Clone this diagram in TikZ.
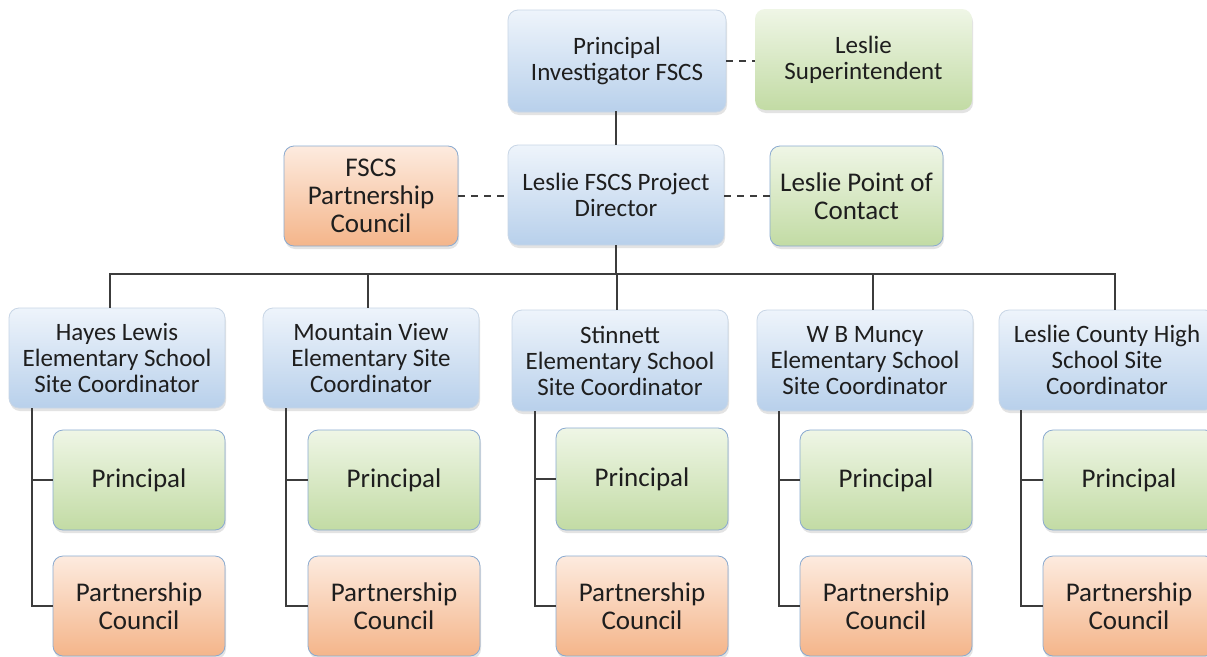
\documentclass[tikz,border=0pt]{standalone}
\usepackage{fontspec}
\setmainfont{Carlito}
\usetikzlibrary{shadows}

\definecolor{bTop}{HTML}{EEF4FB}
\definecolor{bBot}{HTML}{B8D0EB}
\definecolor{bLine}{HTML}{C8D6E6}
\definecolor{gTop}{HTML}{EFF6E6}
\definecolor{gBot}{HTML}{C2DBA4}
\definecolor{oTop}{HTML}{FDEBDF}
\definecolor{oBot}{HTML}{F4B58A}
\definecolor{edge}{HTML}{8AAAD0}
\definecolor{wire}{HTML}{3C3C3C}
\definecolor{ink}{HTML}{1E1E1E}

\tikzset{
  card/.style={rounded corners=10pt, align=center, inner sep=0pt,
    minimum height=100pt, text=ink,
    drop shadow={opacity=0.22, shadow xshift=1pt, shadow yshift=-3pt}},
  bluebox/.style={card, top color=bTop, bottom color=bBot, draw=bLine,
    line width=0.8pt, font=\fontsize{25}{26}\selectfont},
  greenbox/.style={card, top color=gTop, bottom color=gBot, draw=edge,
    line width=0.8pt, font=\fontsize{27}{28}\selectfont},
  orangebox/.style={card, top color=oTop, bottom color=oBot, draw=edge,
    line width=0.8pt, font=\fontsize{27}{28}\selectfont},
  link/.style={draw=wire, line width=2pt},
  dashlink/.style={link, dash pattern=on 7pt off 6pt},
}

\begin{document}
\begin{tikzpicture}[x=1pt, y=-1pt]
\useasboundingbox (0,0) rectangle (1207,656);
\fill[white] (0,0) rectangle (1207,656);
\clip (0,0) rectangle (1207,656);

% leadership
\node[bluebox, minimum width=218pt, minimum height=102pt] (pi) at (617,61)
  {Principal\\Investigator FSCS};
\node[greenbox, draw=none, minimum width=217pt, minimum height=101pt,
  font=\fontsize{25}{26}\selectfont] (sup) at (863.5,59.5)
  {Leslie\\Superintendent};
\node[orangebox, minimum width=174pt] (fpc) at (371,196)
  {FSCS\\Partnership\\Council};
\node[bluebox, minimum width=216pt] (pd) at (616,195)
  {Leslie FSCS Project\\Director};
\node[greenbox, minimum width=173pt] (poc) at (856.5,196)
  {Leslie Point of\\Contact};

% school site coordinators
\node[bluebox, minimum width=216pt] (s1) at (117,358)
  {Hayes Lewis\\Elementary School\\Site Coordinator};
\node[bluebox, minimum width=216pt] (s2) at (371,358)
  {Mountain View\\Elementary Site\\Coordinator};
\node[bluebox, minimum width=216pt, minimum height=101pt] (s3) at (620,360.5)
  {Stinnett\\Elementary School\\Site Coordinator};
\node[bluebox, minimum width=216pt, minimum height=101pt] (s4) at (865,360.5)
  {W B Muncy\\Elementary School\\Site Coordinator};
\node[bluebox, minimum width=216pt] (s5) at (1107,360)
  {Leslie County High\\School Site\\Coordinator};

% principals
\node[greenbox, minimum width=172pt] (p1) at (139,480) {Principal};
\node[greenbox, minimum width=172pt] (p2) at (394,480) {Principal};
\node[greenbox, minimum width=172pt, minimum height=102pt] (p3) at (642,479) {Principal};
\node[greenbox, minimum width=172pt] (p4) at (886,480) {Principal};
\node[greenbox, minimum width=172pt] (p5) at (1129,480) {Principal};

% partnership councils
\node[orangebox, minimum width=172pt] (c1) at (139,606) {Partnership\\Council};
\node[orangebox, minimum width=172pt] (c2) at (394,606) {Partnership\\Council};
\node[orangebox, minimum width=172pt] (c3) at (642,606) {Partnership\\Council};
\node[orangebox, minimum width=172pt] (c4) at (886,606) {Partnership\\Council};
\node[orangebox, minimum width=172pt] (c5) at (1129,606) {Partnership\\Council};

% solid reporting lines
\coordinate (bus) at (617,274);
\draw[link] (pi.south) -- (pd.south |- pi.south) -- (pd.north);
\draw[link] (pd.south) -- (pd.south |- bus);
\draw[link] ([xshift=-7pt]s1.north) |- (bus) -| ([xshift=8pt]s5.north);
\draw[link] ([xshift=-3pt]s2.north) -- ([xshift=-3pt]s2.north |- bus);
\draw[link] ([xshift=-3pt]s3.north) -- ([xshift=-3pt]s3.north |- bus);
\draw[link] ([xshift=8pt]s4.north) -- ([xshift=8pt]s4.north |- bus);

\foreach \i/\d in {1/23, 2/23, 3/23, 4/22, 5/22} {
  \draw[link] ([xshift=\d pt]s\i.south west) |- (c\i.west);
  \draw[link] ([xshift=\d pt]s\i.south west |- p\i.west) -- (p\i.west);
}

% dotted-line relationships
\draw[dashlink] (pi.east) -- (sup.west |- pi.east);
\draw[dashlink] (fpc.east) -- (pd.west |- fpc.east);
\draw[dashlink] (pd.east |- poc.west) -- (poc.west);
\end{tikzpicture}
\end{document}
